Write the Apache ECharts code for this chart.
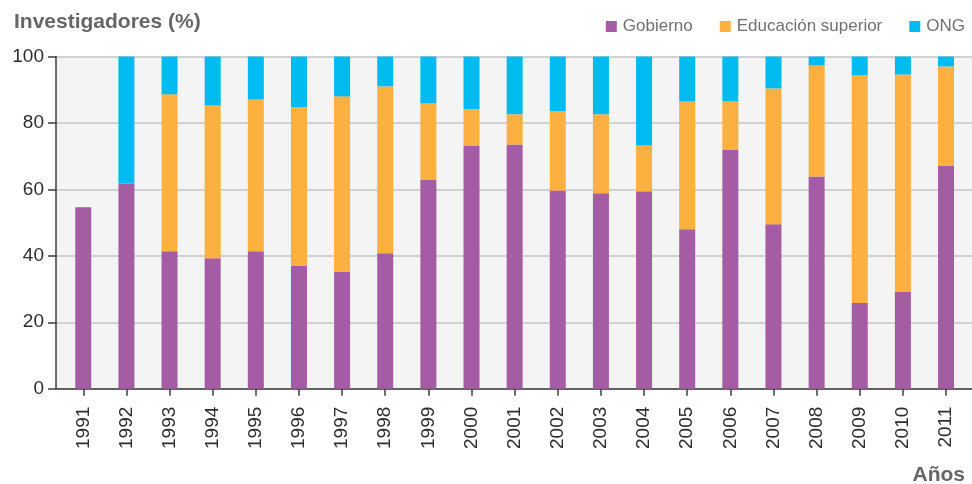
<!DOCTYPE html>
<html>
<head>
<meta charset="utf-8">
<style>
  html, body { margin: 0; padding: 0; background: #ffffff; }
  #chart { width: 972px; height: 484px; }
</style>
<script src="https://cdn.jsdelivr.net/npm/echarts@6/dist/echarts.min.js"></script>
</head>
<body>
<div id="chart"></div>
<script>
// Distribución de investigadores por sector (%)
const years = ['1991','1992','1993','1994','1995','1996','1997','1998','1999','2000',
               '2001','2002','2003','2004','2005','2006','2007','2008','2009','2010','2011'];
const gobierno = [54.6, 61.8, 41.4, 39.3, 41.4, 36.9, 35.1, 40.8, 63.0, 73.2,
                  73.5, 59.7, 58.8, 59.4, 48.0, 72.0, 49.5, 63.9, 25.8, 29.1, 67.2];
const educacionSuperior = [null, null, 47.2, 46.0, 45.7, 47.8, 52.9, 50.2, 22.9, 10.9,
                  9.1, 23.8, 23.8, 13.8, 38.5, 14.5, 40.9, 33.4, 68.5, 65.5, 29.8];
const ong = [null, 38.2, 11.4, 14.7, 12.9, 15.3, 12.0, 9.0, 14.1, 15.9,
             17.4, 16.5, 17.4, 26.8, 13.5, 13.5, 9.6, 2.7, 5.7, 5.4, 3.0];
const yTicks = [0, 20, 40, 60, 80, 100];

const labelFont = 'Liberation Sans, Arial, sans-serif';
const axisDark = '#3c3c3c';

const chart = echarts.init(document.getElementById('chart'), null, { renderer: 'canvas' });

chart.setOption({
  animation: false,
  backgroundColor: '#ffffff',
  textStyle: { fontFamily: labelFont },
  title: [
    {
      text: 'Investigadores (%)',
      left: 9, top: 7,
      textStyle: { fontSize: 21, fontWeight: 'bold', color: '#666666', fontFamily: labelFont }
    },
    {
      text: 'Años',
      right: 2, top: 460,
      textStyle: { fontSize: 21, fontWeight: 'bold', color: '#666666', fontFamily: labelFont }
    }
  ],
  legend: {
    right: 2, top: 13,
    itemWidth: 11, itemHeight: 11, itemGap: 27,
    icon: 'rect',
    textStyle: { fontSize: 17, color: '#707070', fontFamily: labelFont, padding: [0, 0, 0, 1] },
    data: ['Gobierno', 'Educación superior', 'ONG']
  },
  grid: [
    // frame: background, value axis, bottom axis line
    { left: 56, right: 0, top: 56.5, bottom: 95.3, show: true, backgroundColor: '#f3f4f3', borderWidth: 0 },
    // bars
    { left: 61.7, right: 4.4, top: 56.5, bottom: 95.3 }
  ],
  xAxis: [
    {
      gridIndex: 0, type: 'category', data: years,
      axisLine: { lineStyle: { color: axisDark, width: 1.5 } },
      axisTick: { show: false }, axisLabel: { show: false }, splitLine: { show: false }
    },
    {
      gridIndex: 1, type: 'category', data: years,
      axisLine: { show: false },
      axisTick: { show: true, alignWithLabel: true, length: 7, lineStyle: { color: axisDark, width: 1.5 } },
      axisLabel: { rotate: 90, fontSize: 19, color: '#2e2e2e', margin: 18, fontFamily: labelFont },
      splitLine: { show: false }
    }
  ],
  yAxis: [
    {
      gridIndex: 0, type: 'value', min: 0, max: 100, interval: 20,
      axisLine: { show: true, lineStyle: { color: axisDark, width: 1.5 } },
      axisTick: { show: true, length: 8, lineStyle: { color: axisDark, width: 1.5 } },
      axisLabel: {
        fontSize: 19, color: '#2e2e2e', margin: 12, fontFamily: labelFont,
        customValues: yTicks
      },
      splitLine: { show: true, lineStyle: { color: '#c6c6c6', width: 1.5 } }
    },
    {
      gridIndex: 1, type: 'value', min: 0, max: 100, interval: 20,
      show: false, splitLine: { show: false }
    }
  ],
  series: [
    {
      name: 'Gobierno', type: 'bar', stack: 'total', xAxisIndex: 1, yAxisIndex: 1,
      barWidth: 16, data: gobierno, itemStyle: { color: '#a45da5' }
    },
    {
      name: 'Educación superior', type: 'bar', stack: 'total', xAxisIndex: 1, yAxisIndex: 1,
      barWidth: 16, data: educacionSuperior, itemStyle: { color: '#fbb040' }
    },
    {
      name: 'ONG', type: 'bar', stack: 'total', xAxisIndex: 1, yAxisIndex: 1,
      barWidth: 16, data: ong, itemStyle: { color: '#00bbf0' }
    }
  ]
});
</script>
</body>
</html>
